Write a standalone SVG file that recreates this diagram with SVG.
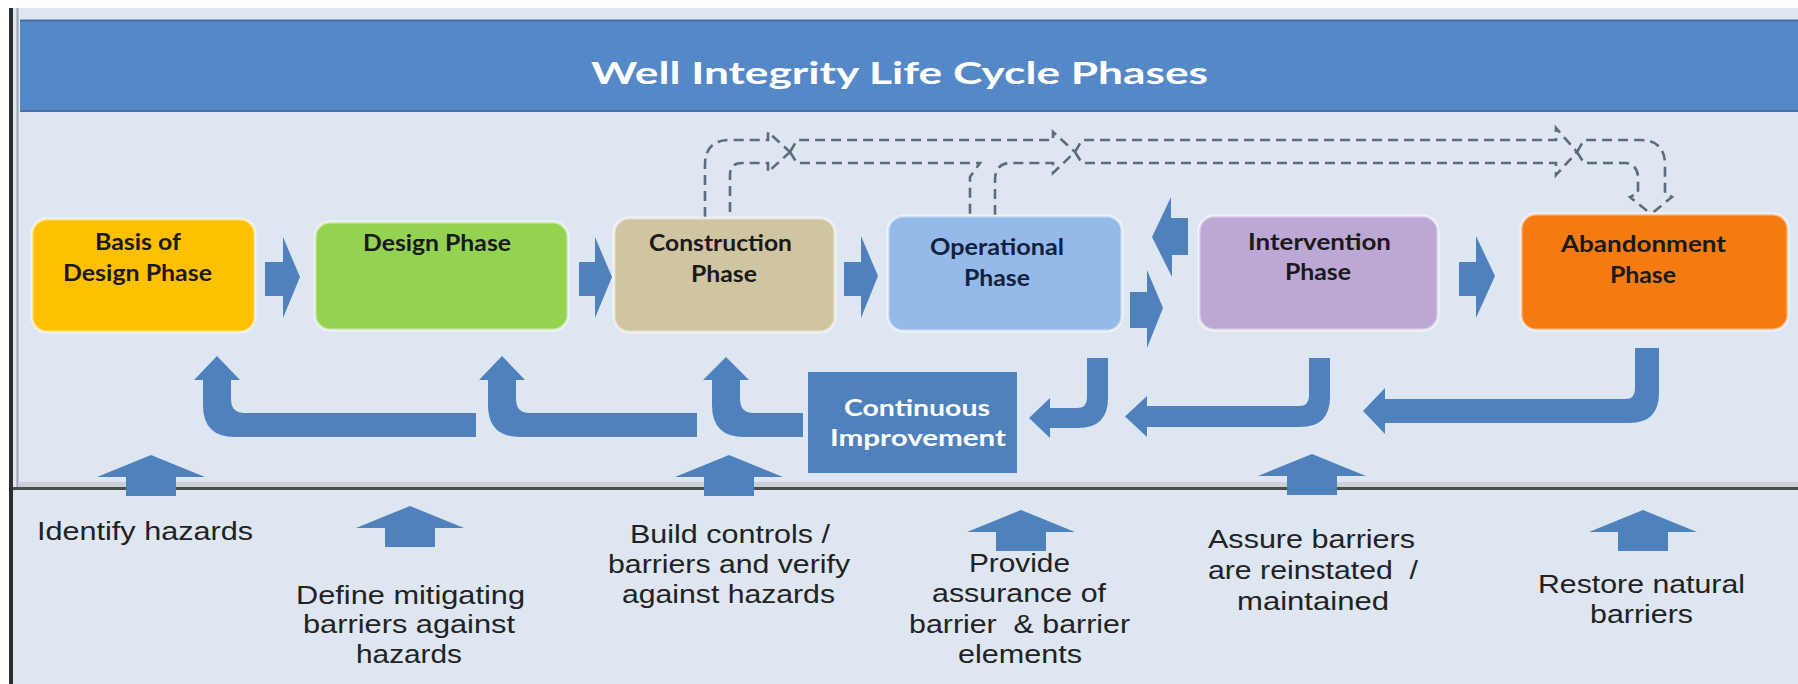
<svg xmlns="http://www.w3.org/2000/svg" width="1798" height="684" viewBox="0 0 1798 684">
<style>
.bx{stroke:#ffffff;stroke-opacity:0.55;stroke-width:3}
.bt{font-family:Lato,"Open Sans","Liberation Sans",sans-serif;font-weight:bold;font-size:22px;fill:#1a1a1a;text-anchor:middle}
.ct{font-family:Lato,"Open Sans","Liberation Sans",sans-serif;font-weight:bold;font-size:22px;fill:#ffffff;text-anchor:middle}
.lt{font-family:"Liberation Sans",Arial,sans-serif;font-size:25px;fill:#222222;text-anchor:middle}
.ar{fill:#4f81bd}
.ds{fill:none;stroke:#5e6b7c;stroke-width:2.6;stroke-dasharray:10 6}
</style>
<defs>
<path id="up" d="M-54,22 L0,0 L54,22 H25 V41 H-25 V22 Z"/>
</defs>
<rect x="0" y="0" width="1798" height="684" fill="#ffffff"/>
<rect x="13" y="8" width="1785" height="676" fill="#dde6f1"/>
<rect x="9" y="8" width="4" height="676" fill="#2e2e2e"/>
<line x1="17.5" y1="8" x2="17.5" y2="487" stroke="#9aa5b3" stroke-width="2"/>
<g id="header">
<rect x="20" y="20" width="1778" height="92" fill="#5588c6"/>
<line x1="20" y1="20.5" x2="1798" y2="20.5" stroke="#4570a8" stroke-width="2"/>
<line x1="20" y1="111" x2="1798" y2="111" stroke="#4570a8" stroke-width="2"/>
<text x="899.5" y="84" font-family="Lato,'Open Sans','Liberation Sans',sans-serif" font-weight="bold" font-size="30" fill="#ffffff" text-anchor="middle" textLength="617" lengthAdjust="spacingAndGlyphs">Well Integrity Life Cycle Phases</text>
</g>
<rect x="18" y="482" width="1780" height="5" fill="#c9d0d9"/>
<line x1="13" y1="488.5" x2="1798" y2="488.5" stroke="#4d4d4d" stroke-width="3"/>

<g id="connectors">
<g id="dashed">
<path class="ds" d="M705,217 V165 Q705,140 730,140 H768 V132 L790,152"/>
<path class="ds" d="M730,212 V175 Q730,163 742,163 H768 V172 L790,152"/>
<path class="ds" d="M790,152 L797,140 H1053 V132 L1075,152"/>
<path class="ds" d="M790,152 L797,163 H980 L970,177 V215"/>
<path class="ds" d="M995,215 V180 Q995,165 1008,163 H1053 V173 L1075,152"/>
<path class="ds" d="M1075,152 L1082,140 H1556 V128 L1577,152"/>
<path class="ds" d="M1075,152 L1082,163 H1556 V175 L1577,152"/>
<path class="ds" d="M1577,152 L1584,140 H1640 Q1665,140 1665,165 V193 L1672,197 L1651,214"/>
<path class="ds" d="M1577,152 L1584,163 H1626 Q1638,165 1638,178 V193 L1630,197 L1651,214"/>
</g>
<g id="flow-arrows">
<path class="ar" d="M265,262 H283 V237 L300,277 L283,318 V296 H265 Z"/>
<path class="ar" d="M579,262 H595 V237 L612,277 L595,318 V296 H579 Z"/>
<path class="ar" d="M844,262 H861 V236 L878,276 L861,318 V296 H844 Z"/>
<path class="ar" d="M1188,218 H1171 V197 L1152,237 L1172,277 V255 H1188 Z"/>
<path class="ar" d="M1130,292 H1147 V270 L1163,308 L1147,348 V328 H1130 Z"/>
<path class="ar" d="M1459,262 H1476 V236 L1495,276 L1476,318 V296 H1459 Z"/>
</g>
<g id="return-arrows">
<path class="ar" d="M476,413 H245 Q231,413 231,399 V380 H240 L217,356 L194,380 H203 V405 Q203,437 235,437 H476 Z"/>
<path class="ar" d="M697,413 H530 Q516,413 516,399 V380 H525 L502,356 L479,380 H488 V405 Q488,437 520,437 H697 Z"/>
<path class="ar" d="M803,413 H754 Q740,413 740,399 V380 H749 L726,357 L703,380 H712 V405 Q712,437 744,437 H803 Z"/>
<path class="ar" d="M1087,358 H1108 V398 Q1108,428 1078,428 H1050 V438 L1029,418 L1050,398 V408 H1077 Q1087,408 1087,398 Z"/>
<path class="ar" d="M1309,358 H1330 V397 Q1330,427 1300,427 H1147 V437 L1125,416.5 L1147,396 V406 H1299 Q1309,406 1309,396 Z"/>
<path class="ar" d="M1635,348 H1659 V393 Q1659,423 1629,423 H1385 V434 L1363,411 L1385,388 V399 H1625 Q1635,399 1635,389 Z"/>
</g>
</g>

<g id="basis-of-design">
<rect class="bx" x="32" y="219" width="223" height="113" rx="15" fill="#ffc000"/>
<text class="bt" x="138" y="250" textLength="86" lengthAdjust="spacingAndGlyphs">Basis of</text>
<text class="bt" x="137.5" y="281" textLength="149" lengthAdjust="spacingAndGlyphs">Design Phase</text>
</g>
<g id="design">
<rect class="bx" x="315" y="222" width="253" height="108" rx="15" fill="#94d352"/>
<text class="bt" x="437" y="251" textLength="148" lengthAdjust="spacingAndGlyphs">Design Phase</text>
</g>
<g id="construction">
<rect class="bx" x="614" y="218" width="221" height="114" rx="15" fill="#d0c5a1"/>
<text class="bt" x="720.5" y="251" textLength="143" lengthAdjust="spacingAndGlyphs">Construction</text>
<text class="bt" x="724" y="282" textLength="66" lengthAdjust="spacingAndGlyphs">Phase</text>
</g>
<g id="operational">
<rect class="bx" x="888" y="216" width="234" height="115" rx="15" fill="#95bae9"/>
<text class="bt" x="997" y="255" style="fill:#13223c" textLength="134" lengthAdjust="spacingAndGlyphs">Operational</text>
<text class="bt" x="997" y="286" style="fill:#13223c" textLength="66" lengthAdjust="spacingAndGlyphs">Phase</text>
</g>
<g id="intervention">
<rect class="bx" x="1199" y="216" width="239" height="114" rx="15" fill="#bca7d5"/>
<text class="bt" x="1319.5" y="250" textLength="143" lengthAdjust="spacingAndGlyphs">Intervention</text>
<text class="bt" x="1318" y="280" textLength="66" lengthAdjust="spacingAndGlyphs">Phase</text>
</g>
<g id="abandonment">
<rect class="bx" x="1521" y="214" width="267" height="116" rx="15" fill="#f37b12"/>
<text class="bt" x="1643.5" y="252" textLength="165" lengthAdjust="spacingAndGlyphs">Abandonment</text>
<text class="bt" x="1643" y="283" textLength="66" lengthAdjust="spacingAndGlyphs">Phase</text>
</g>
<g id="continuous-improvement">
<rect x="808" y="372" width="209" height="101" fill="#4f81bd"/>
<text class="ct" x="917" y="416" textLength="146" lengthAdjust="spacingAndGlyphs">Continuous</text>
<text class="ct" x="918" y="446" textLength="176" lengthAdjust="spacingAndGlyphs">Improvement</text>
</g>

<g id="identify-hazards">
<use href="#up" class="ar" transform="translate(151,455)"/>
<text class="lt" x="145" y="540" textLength="216" lengthAdjust="spacingAndGlyphs">Identify hazards</text>
</g>
<g id="define-barriers">
<use href="#up" class="ar" transform="translate(410,506)"/>
<text class="lt" x="410.5" y="604" textLength="229" lengthAdjust="spacingAndGlyphs">Define mitigating</text>
<text class="lt" x="409" y="633" textLength="212" lengthAdjust="spacingAndGlyphs">barriers against</text>
<text class="lt" x="409" y="663" textLength="106" lengthAdjust="spacingAndGlyphs">hazards</text>
</g>
<g id="build-controls">
<use href="#up" class="ar" transform="translate(729,455)"/>
<text class="lt" x="730" y="543" textLength="200" lengthAdjust="spacingAndGlyphs">Build controls /</text>
<text class="lt" x="729" y="573" textLength="242" lengthAdjust="spacingAndGlyphs">barriers and verify</text>
<text class="lt" x="728.5" y="603" textLength="213" lengthAdjust="spacingAndGlyphs">against hazards</text>
</g>
<g id="provide-assurance">
<use href="#up" class="ar" transform="translate(1021,510)"/>
<text class="lt" x="1019.5" y="572" textLength="101" lengthAdjust="spacingAndGlyphs">Provide</text>
<text class="lt" x="1019" y="602" textLength="174" lengthAdjust="spacingAndGlyphs">assurance of</text>
<text class="lt" x="1019.5" y="633" textLength="221" lengthAdjust="spacingAndGlyphs" xml:space="preserve">barrier  &amp; barrier</text>
<text class="lt" x="1020" y="663" textLength="124" lengthAdjust="spacingAndGlyphs">elements</text>
</g>
<g id="assure-barriers">
<use href="#up" class="ar" transform="translate(1312,454)"/>
<text class="lt" x="1311.5" y="548" textLength="207" lengthAdjust="spacingAndGlyphs">Assure barriers</text>
<text class="lt" x="1313" y="579" textLength="210" lengthAdjust="spacingAndGlyphs" xml:space="preserve">are reinstated  /</text>
<text class="lt" x="1313" y="610" textLength="152" lengthAdjust="spacingAndGlyphs">maintained</text>
</g>
<g id="restore-barriers">
<use href="#up" class="ar" transform="translate(1643,510)"/>
<text class="lt" x="1641.5" y="593" textLength="207" lengthAdjust="spacingAndGlyphs">Restore natural</text>
<text class="lt" x="1641.5" y="623" textLength="103" lengthAdjust="spacingAndGlyphs">barriers</text>
</g>
</svg>
